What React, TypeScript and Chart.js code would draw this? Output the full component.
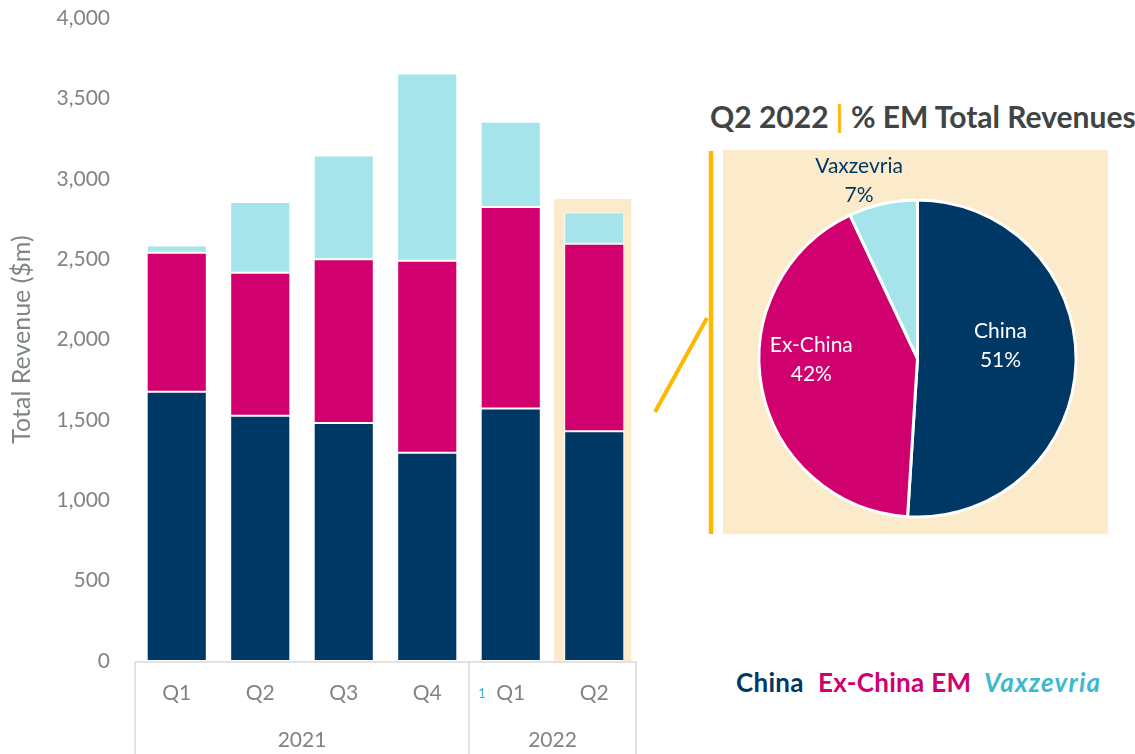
import React, { useEffect, useRef } from "react";
import { Chart, registerables } from "chart.js";

Chart.register(...registerables);

// ---------- data ----------
const quarters = ["Q1", "Q2", "Q3", "Q4", "Q1", "Q2"];
const years = ["2021", "2022"];
const yearSpans = [4, 2];
const china = [1675, 1525, 1480, 1295, 1570, 1430];
const exChina = [865, 890, 1020, 1195, 1255, 1165];
const vaxzevria = [45, 440, 645, 1165, 530, 195];
const yMax = 4000;
const yStep = 500;

const pieLabels = ["China", "Ex-China", "Vaxzevria"];
const pieValues = [51, 42, 7];
const legendLabels = ["China", "Ex-China EM", "Vaxzevria"];

// ---------- styles ----------
const NAVY = "#003865";
const MAGENTA = "#D0006F";
const CYAN_LIGHT = "#A6E4EC";
const CYAN_TEXT = "#3CB9CC";
const BEIGE = "#FBEBCA";
const ORANGE = "#FFB800";
const GRAY = "#7F8585";
const LINE_GRAY = "#D9D9D9";
const FONT = "Lato";

const pieLabelPlacement = [
  { frac: 0.53, dAngle: -10.8, color: "#FFFFFF" },
  { frac: 0.67, dAngle: 10.3, color: "#FFFFFF" },
  { frac: 1.18, dAngle: -5.6, color: NAVY },
];

const barDecor = {
  id: "barDecor",
  beforeDatasetsDraw(chart: any) {
    const { ctx, scales } = chart;
    const x = scales.x;
    const y = scales.y;
    const i = quarters.length - 1;
    const el = chart.getDatasetMeta(0).data[i];
    const cx = x.getPixelForValue(i);
    const w = el.width;
    const total = china[i] + exChina[i] + vaxzevria[i];
    const top = y.getPixelForValue(total) - 13.5;
    ctx.save();
    ctx.fillStyle = BEIGE;
    ctx.fillRect(cx - w / 2 - 10, top, w + 17, y.getPixelForValue(0) - top);
    ctx.restore();
  },
  afterDraw(chart: any) {
    const { ctx, chartArea } = chart;
    const bottom = chartArea.bottom + 1;
    const catW = (chartArea.right - chartArea.left) / quarters.length;
    const edges: number[] = [chartArea.left];
    let idx = 0;
    yearSpans.forEach((s) => {
      idx += s;
      edges.push(chartArea.left + idx * catW);
    });
    ctx.save();
    ctx.strokeStyle = LINE_GRAY;
    ctx.lineWidth = 1.5;
    ctx.beginPath();
    ctx.moveTo(chartArea.left, bottom);
    ctx.lineTo(chartArea.right, bottom);
    edges.forEach((e) => {
      ctx.moveTo(e, bottom);
      ctx.lineTo(e, chart.height);
    });
    ctx.stroke();
    ctx.fillStyle = GRAY;
    ctx.font = `21px ${FONT}`;
    ctx.textAlign = "center";
    ctx.textBaseline = "middle";
    years.forEach((yr, k) => {
      ctx.fillText(yr, (edges[k] + edges[k + 1]) / 2, bottom + 78);
    });
    ctx.fillStyle = CYAN_TEXT;
    ctx.font = `13px ${FONT}`;
    ctx.textAlign = "right";
    ctx.fillText("1", chart.scales.x.getPixelForValue(yearSpans[0]) - 25, bottom + 32);
    ctx.restore();
  },
};

const pieText = {
  id: "pieText",
  afterDatasetsDraw(chart: any) {
    const { ctx } = chart;
    const meta = chart.getDatasetMeta(0);
    ctx.save();
    ctx.font = `21px ${FONT}`;
    ctx.textAlign = "center";
    ctx.textBaseline = "middle";
    meta.data.forEach((arc: any, i: number) => {
      const p = arc.getProps(["x", "y", "startAngle", "endAngle", "outerRadius"], true);
      const pl = pieLabelPlacement[i];
      const mid = (p.startAngle + p.endAngle) / 2 + (pl.dAngle * Math.PI) / 180;
      const r = p.outerRadius * pl.frac;
      const px = p.x + Math.cos(mid) * r;
      const py = p.y + Math.sin(mid) * r;
      ctx.fillStyle = pl.color;
      ctx.fillText(pieLabels[i], px, py - 14.5);
      ctx.fillText(`${pieValues[i]}%`, px, py + 14.5);
    });
    ctx.restore();
  },
};

export default function App() {
  const barRef = useRef<HTMLCanvasElement>(null);
  const pieRef = useRef<HTMLCanvasElement>(null);

  useEffect(() => {
    const bar = new Chart(barRef.current as HTMLCanvasElement, {
      type: "bar",
      data: {
        labels: quarters,
        datasets: [
          { label: "China", data: china, backgroundColor: NAVY },
          { label: "Ex-China EM", data: exChina, backgroundColor: MAGENTA },
          { label: "Vaxzevria", data: vaxzevria, backgroundColor: CYAN_LIGHT },
        ].map((d) => ({
          ...d,
          borderColor: "#FFFFFF",
          borderWidth: 1,
          borderSkipped: false as any,
          barPercentage: 0.72,
          categoryPercentage: 1,
        })),
      },
      options: {
        responsive: false,
        animation: false,
        devicePixelRatio: 1,
        layout: { padding: { top: 18, right: 24, left: 0, bottom: 0 } },
        plugins: { legend: { display: false }, tooltip: { enabled: false } },
        scales: {
          x: {
            stacked: true,
            grid: { display: false, drawTicks: false },
            border: { display: false },
            ticks: { color: GRAY, font: { family: FONT, size: 21 }, padding: 20 },
            afterFit: (s: any) => {
              s.height = 93;
            },
          },
          y: {
            stacked: true,
            min: 0,
            max: yMax,
            grid: { display: false, drawTicks: true, tickLength: 25 },
            border: { display: false },
            ticks: {
              stepSize: yStep,
              color: GRAY,
              font: { family: FONT, size: 21 },
              padding: 0,
              callback: (v: any) => Number(v).toLocaleString("en-US"),
            },
            title: {
              display: true,
              text: "Total Revenue ($m)",
              color: GRAY,
              font: { family: FONT, size: 25 },
              padding: { top: 7, bottom: 0 },
            },
            afterFit: (s: any) => {
              s.width = 135;
            },
          },
        },
      },
      plugins: [barDecor],
    } as any);

    const pie = new Chart(pieRef.current as HTMLCanvasElement, {
      type: "pie",
      data: {
        labels: pieLabels,
        datasets: [
          {
            data: pieValues,
            backgroundColor: [NAVY, MAGENTA, CYAN_LIGHT],
            borderColor: "#FFFFFF",
            borderWidth: 3,
          },
        ],
      },
      options: {
        responsive: false,
        animation: false,
        devicePixelRatio: 1,
        layout: { padding: { left: 34.5, right: 30.5, top: 48.5, bottom: 15.5 } },
        plugins: { legend: { display: false }, tooltip: { enabled: false } },
      },
      plugins: [pieText],
    } as any);

    return () => {
      bar.destroy();
      pie.destroy();
    };
  }, []);

  const legendColors = [NAVY, MAGENTA, CYAN_TEXT];
  const legendLeft = [736, 818, 984];

  return (
    <div
      style={{
        position: "absolute",
        left: 0,
        top: 0,
        width: 1135,
        height: 754,
        overflow: "hidden",
        background: "#FFFFFF",
        fontFamily: FONT,
      }}
    >
      <canvas
        ref={barRef}
        width={660}
        height={754}
        style={{ position: "absolute", left: 0, top: 0, display: "block" }}
      />
      <div
        style={{
          position: "absolute",
          left: 710,
          top: 98,
          height: 37,
          lineHeight: "37px",
          fontSize: 30,
          fontWeight: 700,
          color: "#3F4444",
          whiteSpace: "nowrap",
        }}
      >
        Q2 2022 <span style={{ color: ORANGE, fontWeight: 700 }}>|</span> % EM Total Revenues
      </div>
      <div
        style={{
          position: "absolute",
          left: 723,
          top: 150,
          width: 385,
          height: 384,
          background: BEIGE,
        }}
      />
      <svg
        width={80}
        height={400}
        style={{ position: "absolute", left: 640, top: 145 }}
      >
        <line x1={71} y1={6} x2={71} y2={389} stroke={ORANGE} strokeWidth={4.5} />
        <line x1={15} y1={267} x2={67} y2={173} stroke={ORANGE} strokeWidth={4} />
      </svg>
      <canvas
        ref={pieRef}
        width={385}
        height={384}
        style={{ position: "absolute", left: 723, top: 150, display: "block" }}
      />
      {legendLabels.map((l, i) => (
        <div
          key={l}
          style={{
            position: "absolute",
            left: legendLeft[i],
            top: 666,
            fontSize: 26,
            fontWeight: 700,
            lineHeight: "32px",
            whiteSpace: "nowrap",
            color: legendColors[i],
            fontStyle: i === 2 ? "italic" : "normal",
            letterSpacing: i === 2 ? "1.2px" : "0.3px",
          }}
        >
          {l}
        </div>
      ))}
    </div>
  );
}
